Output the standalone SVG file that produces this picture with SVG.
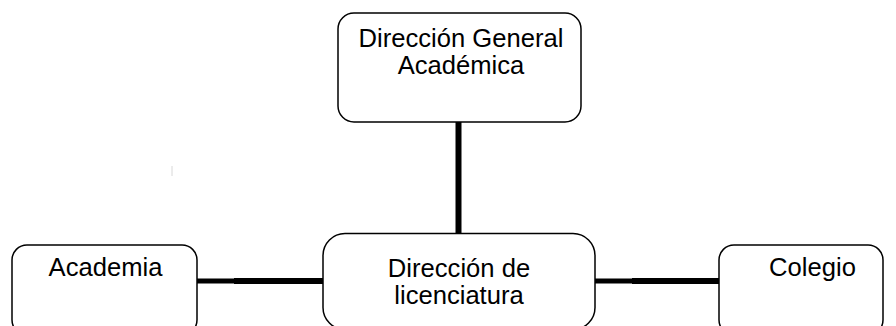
<svg xmlns="http://www.w3.org/2000/svg" width="896" height="326" viewBox="0 0 896 326">
<style>
.box{fill:#fff;stroke:#000;stroke-width:1.5}
.lbl{font-family:"Liberation Sans",Arial,sans-serif;font-size:25.6px;fill:#000;text-anchor:middle}
.conn{stroke:#000;fill:none}
</style>
<rect width="896" height="326" fill="#fff"/>
<g id="connectors">
<line class="conn" x1="458.5" y1="121" x2="458.5" y2="234" stroke-width="6"/>
<line class="conn" x1="197" y1="281" x2="234" y2="281" stroke-width="5"/>
<line class="conn" x1="234" y1="281" x2="323" y2="281" stroke-width="6"/>
<line class="conn" x1="595" y1="281" x2="632" y2="281" stroke-width="5"/>
<line class="conn" x1="632" y1="281" x2="719" y2="281" stroke-width="6"/>
<line x1="172" y1="166" x2="172" y2="176" stroke="#d8d8d8" stroke-width="1"/>
</g>
<g id="node-direccion-general">
<rect class="box" x="338" y="13" width="243" height="109" rx="16"/>
<text class="lbl" x="461" y="46.5">Dirección General</text>
<text class="lbl" x="461" y="73.5">Académica</text>
</g>
<g id="node-direccion-licenciatura">
<rect class="box" x="323" y="233.5" width="272" height="96" rx="22"/>
<text class="lbl" x="459" y="276.5">Dirección de</text>
<text class="lbl" x="459" y="303.5">licenciatura</text>
</g>
<g id="node-academia">
<rect class="box" x="12" y="245" width="185" height="90" rx="15"/>
<text class="lbl" x="105.5" y="276">Academia</text>
</g>
<g id="node-colegio">
<rect class="box" x="719" y="245" width="164" height="90" rx="15"/>
<text class="lbl" x="812.5" y="276">Colegio</text>
</g>
</svg>
